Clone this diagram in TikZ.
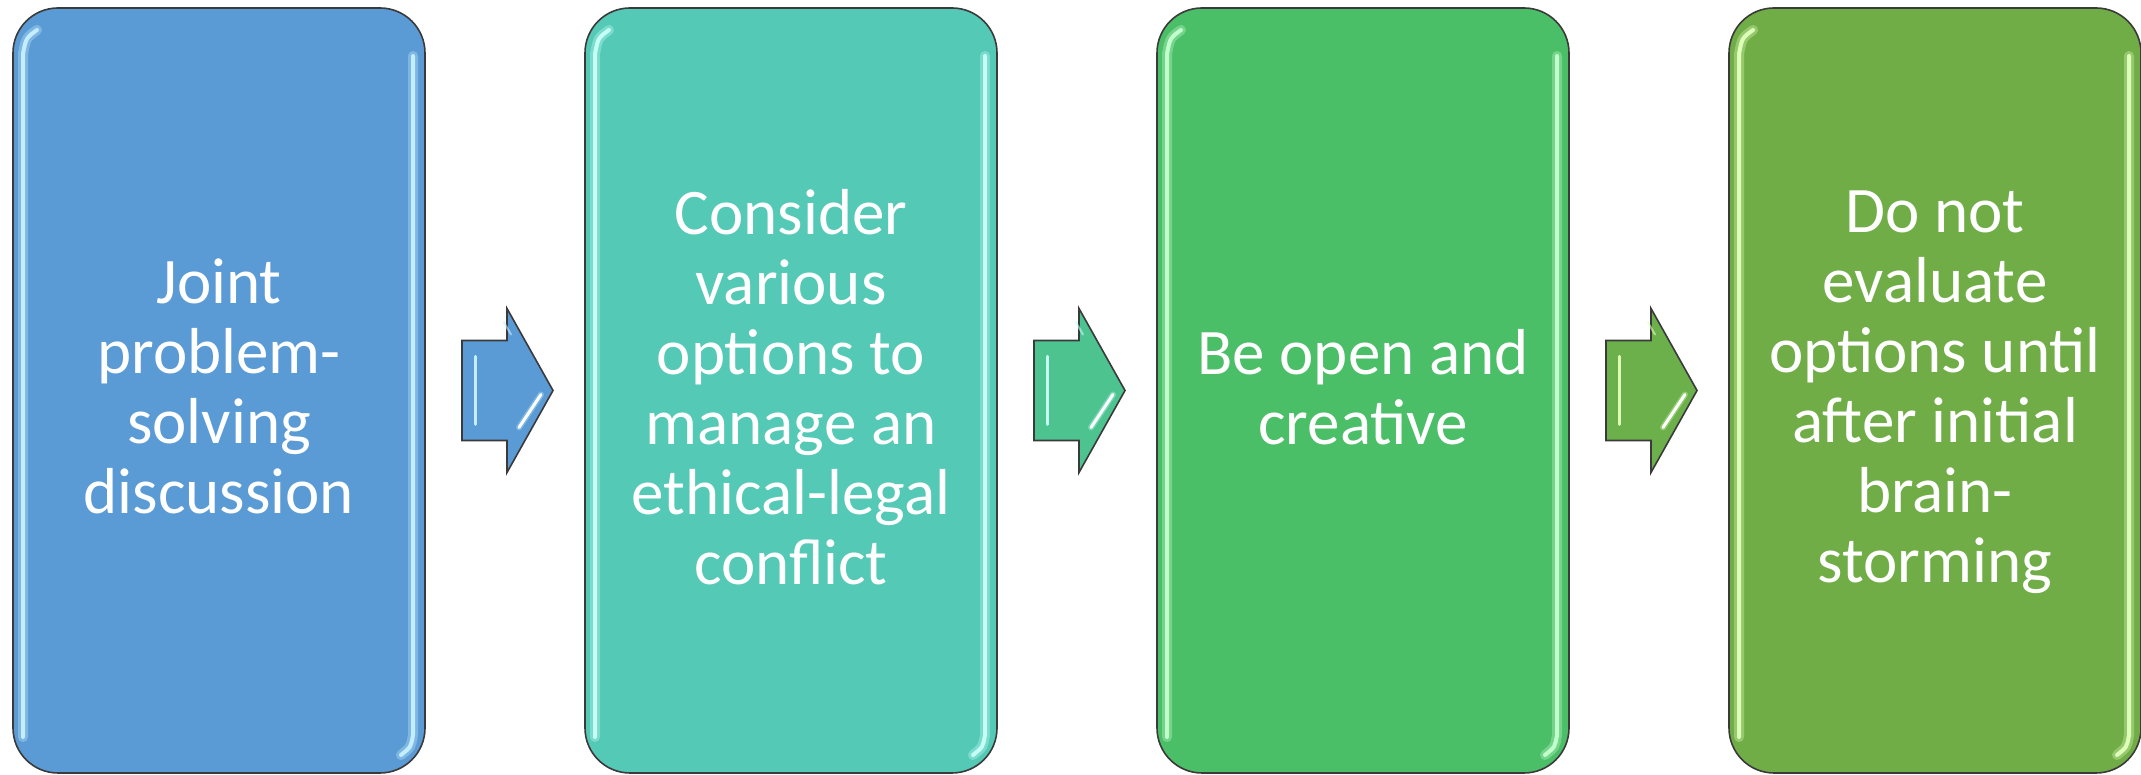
\documentclass[tikz,border=0pt]{standalone}
\usepackage{fontspec}
\setmainfont{Carlito}
\usetikzlibrary{positioning,calc}

\definecolor{boxblue}{HTML}{5B9BD5}
\definecolor{boxteal}{HTML}{53C9B6}
\definecolor{boxgreen}{HTML}{4BBE68}
\definecolor{boxolive}{HTML}{70AD47}
\definecolor{arrowteal}{HTML}{4DC390}
\definecolor{arrowolive}{HTML}{6BB04A}
\definecolor{shineblue}{HTML}{C4EEFF}
\definecolor{shineteal}{HTML}{C6FFF6}
\definecolor{shinegreen}{HTML}{C2FFCC}
\definecolor{shineolive}{HTML}{DDFFB8}
\definecolor{edgegray}{HTML}{3A3A3A}

\tikzset{
  stepbox/.style={draw=edgegray, line width=1.6pt, rounded corners=45pt,
    minimum width=412pt, minimum height=765pt, inner sep=0pt, outer sep=0pt},
  steptext/.style={text=white, align=center, inner sep=0pt,
    font=\fontsize{65}{70}\selectfont,
    execute at begin node=\strut, execute at end node=\strut},
  flowarrow/.style={draw=edgegray, line width=1.6pt, line join=miter},
  shine/.style={line width=4pt, line cap=round},
  glow/.style={line width=10pt, line cap=round, opacity=0.35},
}

\begin{document}
\begin{tikzpicture}[x=1pt,y=1pt]
\useasboundingbox (0,0) rectangle (2141,775);
%% boxes
\node[stepbox, fill=boxblue] (b1) at (219,384.5) {};
\node[stepbox, fill=boxteal, right=160pt of b1] (b2) {};
\node[stepbox, fill=boxgreen, right=160pt of b2] (b3) {};
\node[stepbox, fill=boxolive, right=160pt of b3] (b4) {};
%% gloss
\foreach \b/\c in {b1/shineblue, b2/shineteal, b3/shinegreen, b4/shineolive} {
  \foreach \s in {glow, shine} {
    \draw[\s, \c] ([xshift=24pt,yshift=-22pt]\b.north west)
      .. controls ([xshift=13pt,yshift=-30pt]\b.north west) .. ([xshift=10pt,yshift=-46pt]\b.north west)
      -- ([xshift=10pt,yshift=36pt]\b.south west);
    \draw[\s, \c] ([xshift=-12pt,yshift=-48pt]\b.north east)
      -- ([xshift=-12pt,yshift=38pt]\b.south east)
      .. controls ([xshift=-14pt,yshift=26pt]\b.south east) .. ([xshift=-24pt,yshift=18pt]\b.south east);
  }
}
%% texts
\node[steptext] (t1) at ([yshift=-6.5pt]b1.center) {Joint\\problem-\\solving\\discussion};
\node[steptext] (t2) at ([yshift=-6.5pt]b2.center) {Consider\\various\\options to\\manage an\\ethical-legal\\conflict};
\node[steptext] (t3) at ([yshift=-6.5pt]b3.center) {Be open and\\creative};
\node[steptext] (t4) at ([yshift=-6.5pt]b4.center) {Do not\\evaluate\\options until\\after initial\\brain-\\storming};
%% arrows
\coordinate (m1) at ($(b1.east)!0.5!(b2.west)$);
\coordinate (m2) at ($(b2.east)!0.5!(b3.west)$);
\coordinate (m3) at ($(b3.east)!0.5!(b4.west)$);
\foreach \m/\f/\c in {m1/boxblue/shineblue, m2/arrowteal/shineteal, m3/arrowolive/shineolive} {
  \draw[flowarrow, fill=\f] ($(\m)+(-43,-50)$) -- ++(45,0) -- ++(0,-32)
    -- ++(46,82) -- ++(-46,82) -- ++(0,-32) -- ++(-45,0) -- cycle;
  \draw[line width=3pt, line cap=round, \c] ($(\m)+(-30,-34)$) -- ($(\m)+(-30,34)$);
  \draw[line width=6pt, line cap=round, opacity=0.35, \c] ($(\m)+(36,-4)$) -- ($(\m)+(14,-37)$);
  \draw[line width=3pt, line cap=round, white] ($(\m)+(36,-4)$) -- ($(\m)+(14,-37)$);
  \draw[line width=2pt, line cap=round, \c, opacity=0.6] ($(\m)+(-1,68)$) -- ($(\m)+(6,56)$);
}
%
\end{tikzpicture}
\end{document}
